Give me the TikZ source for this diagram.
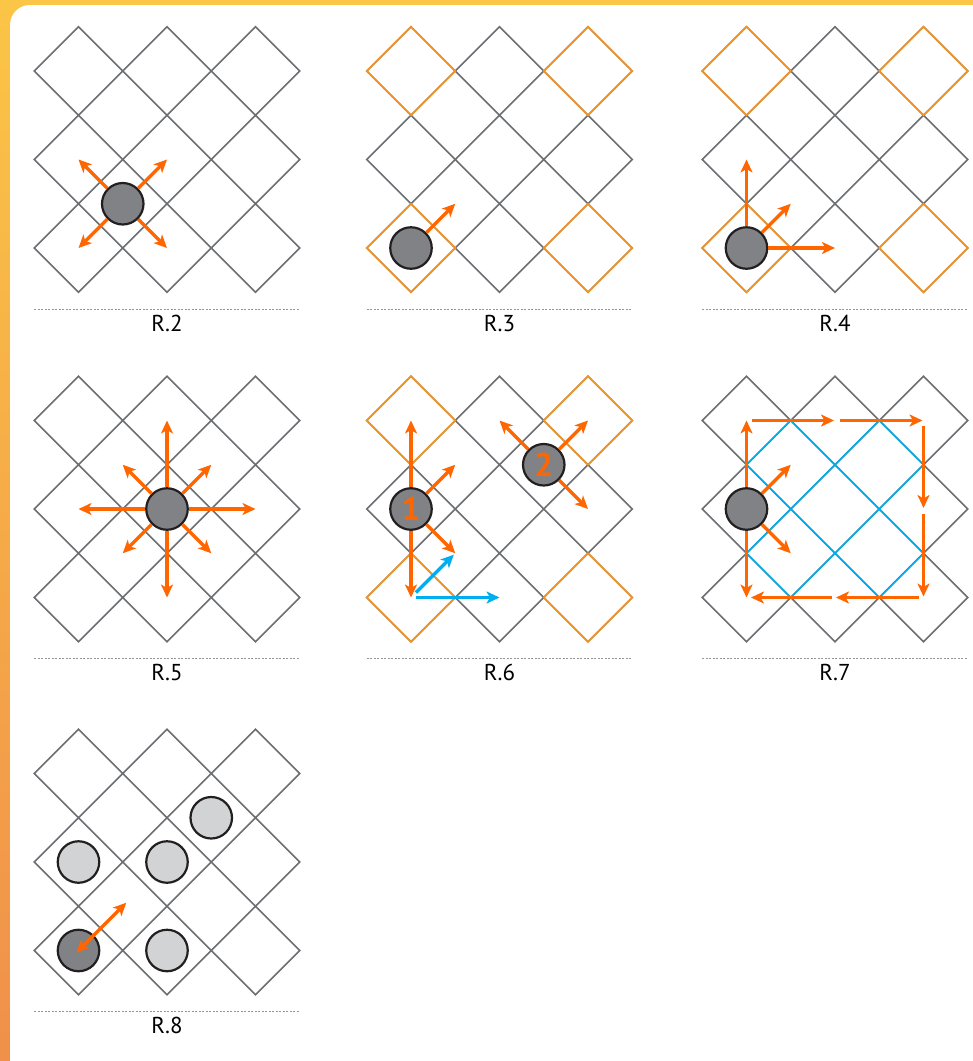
\documentclass[tikz,border=0pt]{standalone}
\usepackage{fontspec}
\setmainfont{PT Sans}
\usepackage{tikz}
\usetikzlibrary{arrows.meta}
\usepackage{xcolor}
\definecolor{gridgray}{RGB}{109, 110, 113}
\definecolor{cornerorange}{RGB}{247, 148, 29}
\definecolor{moveorange}{RGB}{255, 102, 0}
\definecolor{moveblue}{RGB}{0, 174, 239}
\definecolor{piecegray}{RGB}{128, 130, 133}
\definecolor{pieceedge}{RGB}{35, 31, 32}
\definecolor{ghostgray}{RGB}{209, 211, 212}
\definecolor{rulegray}{RGB}{147, 149, 152}
\definecolor{frametop}{RGB}{251, 197, 70}
\definecolor{framebottom}{RGB}{240, 144, 74}
% nine diamonds of one board, style #1
\newcommand{\diamonds}[1]{%
  \foreach \i in {-1,0,1}
    \foreach \j in {-1,0,1}
      \draw[#1] ({\i-0.5},\j) -- (\i,{\j-0.5}) -- ({\i+0.5},\j) -- (\i,{\j+0.5}) -- cycle;}
% the four corner diamonds in orange
\newcommand{\corners}{%
  \foreach \i/\j in {-1/-1, 1/-1, -1/1, 1/1}
    \draw[corner] ({\i-0.5},\j) -- (\i,{\j-0.5}) -- ({\i+0.5},\j) -- (\i,{\j+0.5}) -- cycle;}
% named points on a half-cell lattice: #1-ab
\newcommand{\lattice}[1]{%
  \foreach \a in {0,...,4}
    \foreach \b in {0,...,4}
      \coordinate (#1-\a\b) at ({-1+\a/2},{-1+\b/2});}
\newcommand{\panellabel}[2]{%
  \draw[ruleline] (-1.5,1.69) -- (1.5,1.69);
  \node[plabel, anchor=base] (#1-label) at (0,1.938) {#2};}

\begin{document}
\begin{tikzpicture}[
  x=1pt, y=-1pt,
  cell/.style={draw=gridgray, line width=1.6pt, line join=miter},
  corner/.style={draw=cornerorange, line width=1.6pt},
  bluecell/.style={draw=moveblue, line width=1.7pt},
  move/.style={-{Stealth[length=13pt, width=12pt, inset=3.5pt]}, draw=moveorange, line width=3.5pt},
  twoway/.style={move, {Stealth[length=13pt, width=12pt, inset=3.5pt]}-{Stealth[length=13pt, width=12pt, inset=3.5pt]}},
  bluemove/.style={move, draw=moveblue},
  piece/.style={circle, draw=pieceedge, line width=2.2pt, fill=piecegray, minimum size=41.5pt, inner sep=0pt},
  ghost/.style={piece, fill=ghostgray},
  pnum/.style={font=\fontsize{33}{33}\selectfont\bfseries, text=moveorange},
  ruleline/.style={draw=rulegray, line width=1pt, dash pattern=on 2pt off 1.5pt},
  plabel/.style={font=\fontsize{23}{23}\selectfont, inner sep=0pt}
]
\useasboundingbox (0,0) rectangle (973,1061);
\shade[top color=frametop, bottom color=framebottom] (0,0) rectangle (973,1061);
\fill[white, rounded corners=20pt] (10,5) rectangle (1000,1085);

% R.2
\begin{scope}[shift={(167,159.5)}, x=88.5pt, y=-88.5pt]
  \diamonds{cell}
  \lattice{r2}
  \node[piece] (r2-p) at (r2-13) {};
  \foreach \t in {02,22,04,24}
    \draw[move] (r2-p) -- (r2-\t);
  \panellabel{r2}{R.2}
\end{scope}

% R.3
\begin{scope}[shift={(499.5,159.5)}, x=88.5pt, y=-88.5pt]
  \diamonds{cell}
  \corners
  \lattice{r3}
  \node[piece] (r3-p) at (r3-04) {};
  \draw[move] (r3-p) -- (r3-13);
  \panellabel{r3}{R.3}
\end{scope}

% R.4
\begin{scope}[shift={(835,159.5)}, x=88.5pt, y=-88.5pt]
  \diamonds{cell}
  \corners
  \lattice{r4}
  \node[piece] (r4-p) at (r4-04) {};
  \foreach \t in {02,13,24}
    \draw[move] (r4-p) -- (r4-\t);
  \panellabel{r4}{R.4}
\end{scope}

% R.5
\begin{scope}[shift={(167,509)}, x=88.5pt, y=-88.5pt]
  \diamonds{cell}
  \lattice{r5}
  \node[piece] (r5-p) at (r5-22) {};
  \foreach \t in {20,02,42,24,11,31,13,33}
    \draw[move] (r5-p) -- (r5-\t);
  \panellabel{r5}{R.5}
\end{scope}

% R.6
\begin{scope}[shift={(499.5,509)}, x=88.5pt, y=-88.5pt]
  \diamonds{cell}
  \corners
  \lattice{r6}
  \draw[twoway] (r6-00) -- (r6-04);
  \node[piece, pnum] (r6-one) at (r6-02) {1};
  \draw[move] (r6-one) -- (r6-11);
  \draw[move] (r6-one) -- (r6-13);
  \draw[bluemove, shorten <=7pt, shorten >=2pt] (r6-04) -- (r6-13);
  \draw[bluemove, shorten <=5pt] (r6-04) -- (r6-24);
  \node[piece, pnum] (r6-two) at (r6-31) {2};
  \foreach \t in {20,40,42}
    \draw[move] (r6-two) -- (r6-\t);
  \panellabel{r6}{R.6}
\end{scope}

% R.7
\begin{scope}[shift={(835,509)}, x=88.5pt, y=-88.5pt]
  \diamonds{cell}
  \lattice{r7}
  \begin{scope}
    \clip (r7-00) rectangle (r7-44);
    \diamonds{bluecell}
  \end{scope}
  \draw[twoway] (r7-00) -- (r7-04);
  \foreach \s/\t in {00/20, 20/40, 40/42, 42/44, 44/24}
    \draw[move, shorten <=5pt, shorten >=1pt] (r7-\s) -- (r7-\t);
  \draw[move, shorten <=3pt, shorten >=4.5pt] (r7-24) -- (r7-04);
  \node[piece] (r7-p) at (r7-02) {};
  \draw[move] (r7-p) -- (r7-11);
  \draw[move] (r7-p) -- (r7-13);
  \panellabel{r7}{R.7}
\end{scope}

% R.8
\begin{scope}[shift={(167,862)}, x=88.5pt, y=-88.5pt]
  \diamonds{cell}
  \lattice{r8}
  \node[ghost] (r8-g1) at (r8-02) {};
  \node[ghost] (r8-g2) at (r8-22) {};
  \node[ghost] (r8-g3) at (r8-31) {};
  \node[ghost] (r8-g4) at (r8-24) {};
  \node[piece] (r8-p) at (r8-04) {};
  \draw[twoway, shorten <=-3pt, shorten >=-5pt] (r8-04) -- (r8-13);
  \panellabel{r8}{R.8}
\end{scope}

\end{tikzpicture}
\end{document}
